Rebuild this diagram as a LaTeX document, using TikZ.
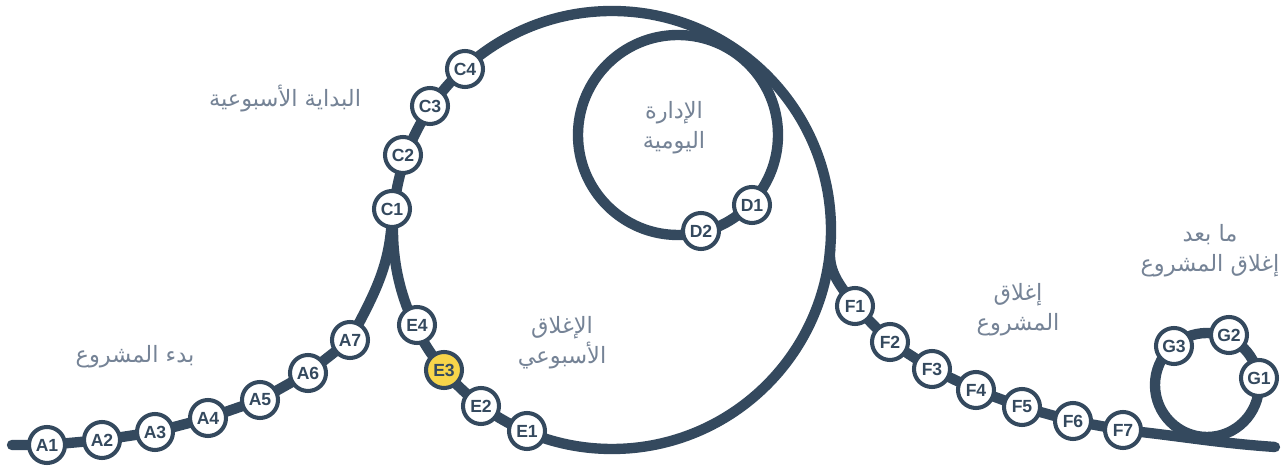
\documentclass[tikz,border=0pt]{standalone}
\usepackage{fontspec}
\setmainfont{Liberation Sans}
\newfontfamily\arabicfont[Script=Arabic]{DejaVu Sans}
\TeXXeTstate=1
\usetikzlibrary{backgrounds}
\definecolor{trackblue}{HTML}{34495E}
\definecolor{labelgray}{HTML}{758396}
\definecolor{nowyellow}{HTML}{F7D54A}
\tikzset{
  track/.style={line width=5.9pt, color=trackblue, line cap=round, line join=round},
  stop/.style={circle, draw=trackblue, fill=white, line width=2.3pt, minimum size=20.5pt,
    inner sep=0pt, text=trackblue, font=\bfseries\fontsize{10}{12}\selectfont},
  phase/.style={text=labelgray, align=center, font=\arabicfont\fontsize{12.8}{17}\selectfont}
}
\begin{document}
\begin{tikzpicture}[x=0.02cm, y=0.02cm]
\useasboundingbox (0,0) rectangle (1286,469);
% centres of the three loops and the two line ends
\coordinate (hub) at (612,239);
\coordinate (daily) at (678,334);
\coordinate (after) at (1207,84);
\coordinate (start) at (12,24);
\coordinate (end) at (1275,22);
% stations
\foreach \n/\x/\y in {A1/47/24, A2/102/29, A3/155/37, A4/208/51, A5/260/69, A6/308/96, A7/350/129,
    C1/392/260, C2/403/314, C3/430/363, C4/465/400, D1/752/264, D2/701/238,
    E1/527/38, E2/481/63, E4/417/144,
    F1/855/163, F2/890/127, F3/932/100, F4/976/79, F5/1022/62, F6/1073/48, F7/1123/39,
    G1/1259/91, G2/1229/134, G3/1174/123}
  \node[stop] (\n) at (\x,\y) {\n};
\node[stop, fill=nowyellow] (E3) at (444,99) {E3};
% the lines behind the stations
\begin{scope}[on background layer]
\draw[track] (hub) circle (219);
\draw[track] (daily) circle (100);
\draw[track] (after) circle (52);
\draw[track] (start) -- (A1.center) -- (A2.center) -- (A3.center) -- (A4.center) -- (A5.center)
  -- (A6.center) -- (A7.center) to[out=62,in=-90] (C1.center);
\draw[track] ([shift={(-5:219)}]hub) to[out=-95,in=125] (F1.center) -- (F2.center) -- (F3.center)
  -- (F4.center) -- (F5.center) -- (F6.center) -- (F7.center) to[out=-6,in=176] (end);
\end{scope}
% phase names
\node[phase] (kickoff) at (135,112) {\beginR بدء المشروع\endR};
\node[phase] (weekstart) at (285,370) {\beginR البداية الأسبوعية\endR};
\node[phase] (daymgmt) at (674,341) {\beginR الإدارة\endR\\ \beginR اليومية\endR};
\node[phase] (weekclose) at (562,126) {\beginR الإغلاق\endR\\ \beginR الأسبوعي\endR};
\node[phase] (closing) at (1018,159) {\beginR إغلاق\endR\\ \beginR المشروع\endR};
\node[phase] (postclose) at (1210,218) {\beginR ما بعد\endR\\ \beginR إغلاق المشروع\endR};
\end{tikzpicture}
\end{document}
